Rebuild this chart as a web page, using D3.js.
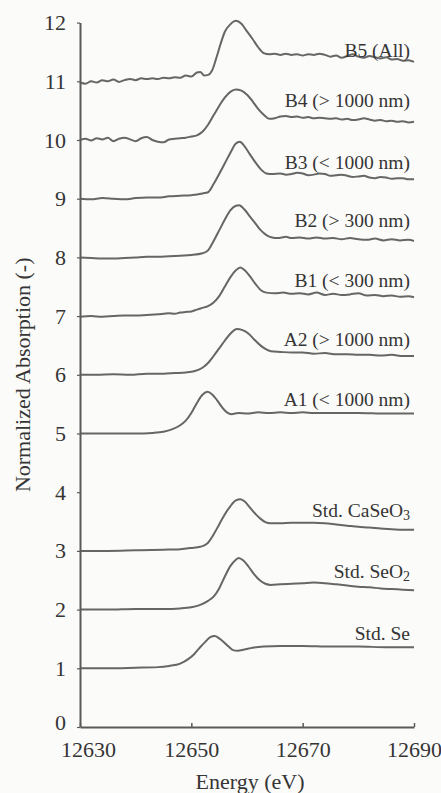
<!DOCTYPE html>
<html>
<head>
<meta charset="utf-8">
<script src="https://cdn.jsdelivr.net/npm/d3@7"></script>
<style>
  html, body { margin: 0; padding: 0; background: #fbfbf9; }
  svg { display: block; }
</style>
</head>
<body>
<svg id="chart" width="441" height="793"></svg>
<script>
// ---------------- DATA ----------------
const xTicks = [12630, 12650, 12670, 12690];
const yTicks = [0, 1, 2, 3, 4, 5, 6, 7, 8, 9, 10, 11, 12];
const xTitle = "Energy (eV)";
const yTitle = "Normalized Absorption (-)";

// label text (main part + subscript) and the level (in absorption units) of its baseline
const seriesNames = ["B5 (All)", "B4 (> 1000 nm)", "B3 (< 1000 nm)", "B2 (> 300 nm)", "B1 (< 300 nm)",
                     "A2 (> 1000 nm)", "A1 (< 1000 nm)", "Std. CaSeO", "Std. SeO", "Std. Se"];
const seriesSubs  = ["", "", "", "", "", "", "", "3", "2", ""];
const labelLevels = [11.41, 10.56, 9.51, 8.52, 7.49, 6.49, 5.47, 3.58, 2.54, 1.48];

const B5 = [[12630,10.98],[12631,10.96],[12632,11.00],[12633,10.98],[12634,11.02],[12635,11.00],[12636,11.03],
  [12637,10.99],[12638,11.02],[12639,11.04],[12640,11.02],[12641,11.05],[12642,11.04],[12643,11.05],[12644,11.04],
  [12645,11.06],[12646,11.05],[12647,11.07],[12648,11.06],[12649,11.10],[12650,11.08],[12651,11.15],[12651.6,11.16],
  [12652.3,11.10],[12653,11.11],[12653.8,11.20],[12654.5,11.40],[12655.3,11.65],[12656,11.84],[12657,11.97],
  [12658,12.03],[12659,11.98],[12660,11.85],[12661,11.72],[12662,11.58],[12663,11.48],[12664,11.46],[12665,11.47],
  [12666,11.45],[12667,11.47],[12668,11.45],[12669,11.46],[12670,11.44],[12671,11.46],[12672,11.45],[12673,11.47],
  [12674,11.45],[12675,11.42],[12676,11.44],[12677,11.40],[12678,11.43],[12679,11.46],[12680,11.42],[12681,11.40],
  [12682,11.43],[12683,11.41],[12684,11.39],[12685,11.41],[12686,11.37],[12687,11.38],[12688,11.35],[12689,11.36],
  [12690,11.33]];

const B4 = [[12630,10.00],[12631,10.02],[12632,9.99],[12633,10.03],[12634,10.01],[12635,10.04],[12636,9.98],
  [12637,10.02],[12638,10.04],[12639,10.01],[12640,9.98],[12641,10.03],[12642,10.05],[12643,10.00],[12644,9.97],
  [12645,9.96],[12646,10.01],[12647,10.02],[12648,10.03],[12649,10.04],[12650,10.06],[12651,10.08],[12652,10.14],
  [12653,10.26],[12654,10.42],[12655,10.58],[12656,10.72],[12657,10.82],[12658,10.86],[12659,10.84],[12660,10.77],
  [12661,10.66],[12662,10.53],[12663,10.43],[12664,10.36],[12665,10.37],[12666,10.40],[12667,10.41],[12668,10.39],
  [12669,10.40],[12670,10.38],[12671,10.39],[12672,10.37],[12673,10.38],[12674,10.37],[12675,10.36],[12676,10.37],
  [12677,10.35],[12678,10.36],[12679,10.34],[12680,10.35],[12681,10.37],[12682,10.35],[12683,10.33],[12684,10.34],
  [12685,10.32],[12686,10.33],[12687,10.31],[12688,10.32],[12689,10.30],[12690,10.31]];

const B3 = [[12630,9.00],[12632,8.99],[12634,9.01],[12636,9.00],[12638,8.99],[12640,9.01],[12642,9.02],[12644,9.02],
  [12646,9.04],[12648,9.05],[12650,9.06],[12651,9.07],[12652,9.09],[12653,9.11],[12654,9.25],[12655,9.42],
  [12656,9.60],[12657,9.78],[12658,9.94],[12658.7,9.97],[12659.5,9.90],[12660.5,9.76],[12661.5,9.62],[12662.5,9.50],
  [12663.5,9.43],[12664.5,9.42],[12666,9.43],[12667,9.41],[12668,9.42],[12669,9.44],[12670,9.43],[12671,9.40],
  [12672,9.41],[12673,9.43],[12674,9.42],[12675,9.39],[12676,9.40],[12677,9.41],[12678,9.39],[12679,9.37],
  [12680,9.38],[12681,9.39],[12682,9.36],[12683,9.35],[12684,9.37],[12685,9.36],[12686,9.34],[12687,9.35],
  [12688,9.35],[12689,9.33],[12690,9.33]];

const B2 = [[12630,8.00],[12632,7.99],[12634,7.98],[12636,7.98],[12638,7.99],[12640,8.00],[12642,8.01],[12644,8.01],
  [12646,8.02],[12648,8.03],[12650,8.04],[12652,8.07],[12653,8.12],[12654,8.28],[12655,8.46],[12656,8.64],
  [12657,8.80],[12658,8.88],[12658.6,8.89],[12659.5,8.82],[12660.5,8.70],[12661.5,8.58],[12662.5,8.46],
  [12663.5,8.38],[12664.5,8.34],[12665.5,8.33],[12667,8.35],[12668,8.33],[12669.5,8.34],[12671,8.32],[12672.5,8.34],
  [12674,8.32],[12675.5,8.33],[12677,8.31],[12678.5,8.33],[12680,8.31],[12681.5,8.30],[12683,8.32],[12684.5,8.29],
  [12686,8.31],[12687.5,8.29],[12689,8.30],[12690,8.28]];

const B1 = [[12630,6.99],[12632,7.00],[12634,6.99],[12636,7.00],[12638,7.01],[12640,7.01],[12642,7.02],[12644,7.03],
  [12645,7.04],[12646,7.05],[12647,7.04],[12648,7.06],[12649,7.07],[12650,7.08],[12651,7.11],[12652,7.14],
  [12653,7.17],[12654,7.23],[12655,7.34],[12656,7.50],[12657,7.66],[12658,7.78],[12658.8,7.83],[12659.6,7.78],
  [12660.5,7.68],[12661.5,7.55],[12662.5,7.44],[12663.5,7.40],[12665,7.39],[12666.5,7.40],[12668,7.38],
  [12669.5,7.39],[12671,7.37],[12672.5,7.40],[12674,7.36],[12675.5,7.38],[12677,7.36],[12678.5,7.37],[12680,7.39],
  [12681.5,7.35],[12683,7.36],[12684.5,7.34],[12686,7.35],[12687.5,7.33],[12689,7.34],[12690,7.32]];

const A2 = [[12630,6.00],[12633,6.00],[12636,6.01],[12639,6.00],[12642,6.02],[12645,6.02],[12647,6.03],[12649,6.04],
  [12650.5,6.06],[12652,6.12],[12653,6.20],[12654,6.32],[12655,6.45],[12656,6.58],[12657,6.70],[12658.2,6.78],
  [12659.2,6.76],[12660.3,6.70],[12661.3,6.60],[12662.3,6.51],[12663.3,6.44],[12664.3,6.40],[12666,6.39],
  [12668,6.38],[12670,6.38],[12672,6.36],[12674,6.37],[12676,6.35],[12678,6.35],[12680,6.34],[12682,6.34],
  [12684,6.33],[12686,6.34],[12688,6.32],[12690,6.32]];

const A1 = [[12630,5.00],[12635,5.00],[12640,5.00],[12643,5.01],[12645,5.03],[12646.5,5.07],[12648,5.14],
  [12649,5.22],[12650,5.35],[12651,5.52],[12652,5.66],[12652.9,5.71],[12653.7,5.67],[12654.6,5.57],[12655.5,5.45],
  [12656.4,5.36],[12657.2,5.33],[12658.5,5.35],[12660,5.34],[12662,5.36],[12664,5.35],[12666,5.36],[12668,5.35],
  [12670,5.36],[12672,5.35],[12675,5.35],[12680,5.35],[12685,5.34],[12690,5.34]];

const CaSeO3 = [[12630,3.00],[12635,3.00],[12640,3.01],[12645,3.02],[12648,3.03],[12650,3.05],[12651.6,3.07],
  [12652.8,3.12],[12654,3.28],[12655,3.45],[12656,3.62],[12657,3.76],[12658,3.86],[12658.8,3.88],[12659.6,3.84],
  [12660.6,3.73],[12661.5,3.63],[12662.4,3.55],[12663.3,3.49],[12664.2,3.47],[12666,3.47],[12668,3.48],
  [12670,3.48],[12672,3.48],[12674,3.47],[12676,3.45],[12678,3.43],[12680,3.41],[12682,3.40],[12684,3.38],
  [12686,3.37],[12688,3.36],[12690,3.36]];

const SeO2 = [[12630,2.00],[12635,2.00],[12640,2.01],[12645,2.01],[12648,2.02],[12650,2.04],[12651.6,2.08],
  [12653,2.15],[12654,2.22],[12655,2.36],[12656,2.56],[12657,2.74],[12658,2.85],[12658.5,2.88],[12659.3,2.84],
  [12660.3,2.73],[12661.3,2.60],[12662.3,2.50],[12663.3,2.44],[12664.3,2.42],[12666,2.43],[12668,2.44],
  [12670,2.45],[12672,2.46],[12674,2.45],[12676,2.43],[12678,2.41],[12680,2.39],[12682,2.38],[12684,2.36],
  [12686,2.35],[12688,2.34],[12690,2.33]];

const Se = [[12630,1.00],[12635,1.00],[12640,1.01],[12644,1.02],[12646,1.04],[12648,1.08],[12649.5,1.16],
  [12650.5,1.24],[12651.5,1.35],[12652.5,1.45],[12653.4,1.53],[12654.2,1.55],[12655,1.51],[12655.8,1.45],
  [12656.7,1.37],[12657.5,1.31],[12658.3,1.30],[12659.5,1.32],[12661,1.35],[12663,1.37],[12666,1.38],
  [12670,1.38],[12675,1.37],[12680,1.37],[12685,1.36],[12690,1.36]];

const seriesData = [B5, B4, B3, B2, B1, A2, A1, CaSeO3, SeO2, Se];

// ---------------- DRAW ----------------
const svg = d3.select("#chart");
const W = 441, H = 793;
const margin = { left: 80, right: 27, top: 22.6, bottom: 66 };

const x = d3.scaleLinear().domain([12630, 12690]).range([margin.left, W - margin.right]);
const y = d3.scaleLinear().domain([0, 12]).range([H - margin.bottom, margin.top]);

const serif = "'Liberation Serif', 'Times New Roman', Times, serif";
const axisColor = "#5a5a5a";
const lineColor = "#666666";
const textColor = "#353535";

// curves
const line = d3.line().x(d => x(d[0])).y(d => y(d[1])).curve(d3.curveMonotoneX);
svg.append("g").selectAll("path").data(seriesData).join("path")
  .attr("d", line)
  .attr("fill", "none")
  .attr("stroke", lineColor)
  .attr("stroke-width", 2)
  .attr("stroke-linejoin", "round");

// x axis
const gx = svg.append("g")
  .attr("transform", `translate(0,${y(0)})`)
  .call(d3.axisBottom(x).tickValues(xTicks).tickFormat(d3.format("d"))
    .tickSizeInner(-4).tickSizeOuter(0).tickPadding(14));
gx.select(".domain").attr("stroke", axisColor).attr("stroke-width", 2);
gx.selectAll(".tick line").attr("stroke", axisColor).attr("stroke-width", 1.5);
gx.selectAll(".tick text")
  .attr("fill", textColor).attr("font-family", serif).attr("font-size", 22)
  .attr("dx", (d, i) => i === 0 ? 8 : 0);

// y axis
const gy = svg.append("g")
  .attr("transform", `translate(${x(12630)},0)`)
  .call(d3.axisLeft(y).tickValues(yTicks).tickFormat(d3.format("d"))
    .tickSizeInner(3).tickSizeOuter(0).tickPadding(11));
gy.select(".domain").attr("stroke", axisColor).attr("stroke-width", 2);
gy.selectAll(".tick line").attr("stroke", axisColor).attr("stroke-width", 1.2);
gy.selectAll(".tick text")
  .attr("fill", textColor).attr("font-family", serif).attr("font-size", 22)
  .attr("transform", d => d === 0 ? "translate(0,-5)" : null);

// series labels
const labelX = x(12690) - 4;
const lab = svg.append("g").selectAll("text").data(seriesNames).join("text")
  .attr("x", labelX)
  .attr("y", (d, i) => y(labelLevels[i]))
  .attr("text-anchor", "end")
  .attr("fill", textColor)
  .attr("font-family", serif)
  .attr("font-size", 19.5);
lab.append("tspan").text(d => d);
lab.filter((d, i) => seriesSubs[i] !== "")
  .append("tspan")
  .attr("font-size", 14)
  .attr("dy", 3)
  .text((d) => seriesSubs[seriesNames.indexOf(d)]);

// axis titles
svg.append("text")
  .attr("x", (x(12630) + x(12690)) / 2 + 3)
  .attr("y", H - 4)
  .attr("text-anchor", "middle")
  .attr("fill", textColor).attr("font-family", serif).attr("font-size", 22)
  .text(xTitle);

svg.append("text")
  .attr("transform", `translate(30,${y(6.0)}) rotate(-90)`)
  .attr("text-anchor", "middle")
  .attr("fill", textColor).attr("font-family", serif).attr("font-size", 22)
  .text(yTitle);
</script>
</body>
</html>
